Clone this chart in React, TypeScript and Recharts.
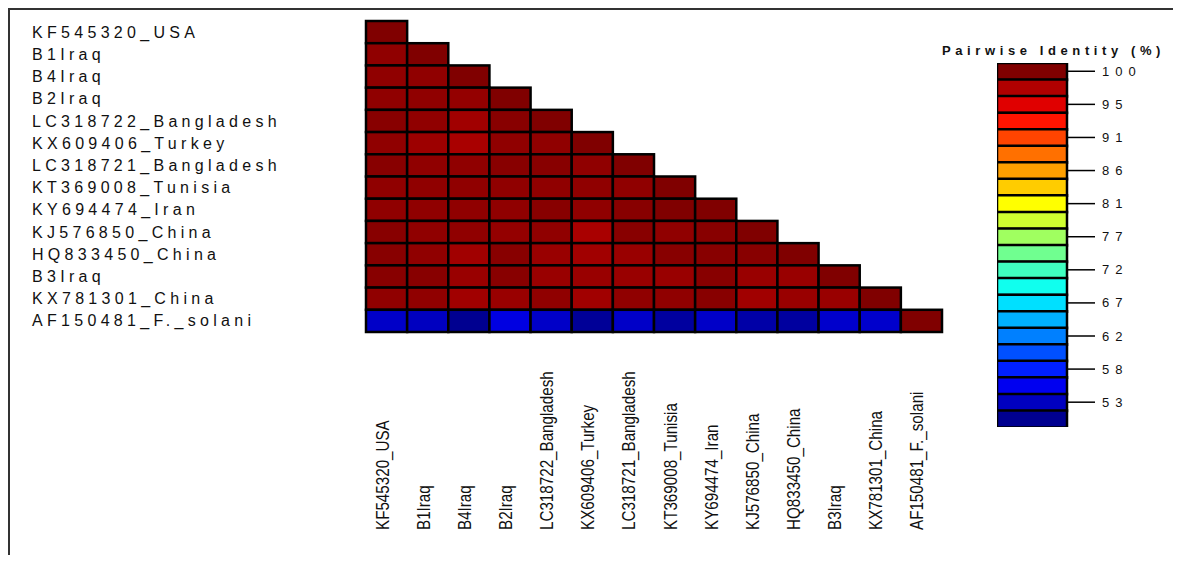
import { ScatterChart, Scatter, XAxis, YAxis, BarChart, Bar, Cell } from "recharts";

const TAXA = [
  "KF545320_USA",
  "B1Iraq",
  "B4Iraq",
  "B2Iraq",
  "LC318722_Bangladesh",
  "KX609406_Turkey",
  "LC318721_Bangladesh",
  "KT369008_Tunisia",
  "KY694474_Iran",
  "KJ576850_China",
  "HQ833450_China",
  "B3Iraq",
  "KX781301_China",
  "AF150481_F._solani",
];

// lower triangle of pairwise identity (%), row i vs columns 0..i
const IDENTITY = [
  [100],
  [99.2, 100],
  [99.2, 99.2, 100],
  [99.2, 99.2, 99.0, 100],
  [99.6, 99.2, 98.4, 99.6, 100],
  [99.2, 98.6, 98.0, 99.2, 99.2, 100],
  [99.6, 99.2, 99.2, 99.6, 99.6, 99.2, 100],
  [99.2, 99.2, 99.2, 99.2, 99.2, 99.2, 99.2, 100],
  [99.2, 99.2, 99.2, 99.2, 99.6, 99.2, 99.6, 100, 100],
  [99.6, 99.2, 99.2, 99.0, 99.2, 98.0, 99.6, 99.2, 99.6, 100],
  [99.6, 99.2, 98.4, 99.6, 98.8, 98.4, 98.8, 99.6, 99.6, 99.6, 100],
  [99.6, 99.6, 98.8, 99.6, 98.8, 98.8, 98.8, 98.8, 99.6, 98.8, 98.8, 100],
  [99.2, 99.2, 98.4, 98.8, 99.2, 98.4, 99.2, 99.2, 99.6, 98.4, 98.8, 98.8, 100],
  [53.4, 53.0, 50.6, 54.6, 53.4, 51.0, 53.4, 51.4, 53.4, 51.8, 51.4, 53.6, 53.6, 100],
];

// colour bar swatches, top (100%) to bottom
const LEGEND_COLORS = [
  "#800000", "#b00000", "#e00000", "#ff1400", "#ff4400", "#ff7000",
  "#ffa000", "#ffcc00", "#ffff00", "#d0ff30", "#a0ff60", "#70ff90",
  "#40ffc0", "#10ffee", "#00e0ff", "#00b0ff", "#0080ff", "#0050ff",
  "#0020ff", "#0000f0", "#0000c0", "#000090",
];
const LEGEND_TICKS = ["100", "95", "91", "86", "81", "77", "72", "67", "62", "58", "53"];

const SCALE_TOP = 100;
const SCALE_LAST_TICK = 53;
const STEP = (SCALE_TOP - SCALE_LAST_TICK) / ((LEGEND_TICKS.length - 1) * 2);

const FONT = "'Liberation Sans', Arial, sans-serif";

const CHART_W = 940;
const CHART_H = 545;
const Y_AXIS_W = 356;
const X_AXIS_H = 223;
const MARGIN = { top: 11, right: 8, left: 0, bottom: 0 };
const PLOT_W = CHART_W - Y_AXIS_W - MARGIN.right;
const PLOT_H = CHART_H - MARGIN.top - X_AXIS_H;
const CELL_W = PLOT_W / TAXA.length;
const CELL_H = PLOT_H / TAXA.length;

function toRgb(hex: string) {
  const n = parseInt(hex.slice(1), 16);
  return [(n >> 16) & 255, (n >> 8) & 255, n & 255];
}

function identityColor(v: number) {
  const pos = Math.max(0, (SCALE_TOP - v) / STEP);
  const last = LEGEND_COLORS.length - 1;
  const i = Math.min(last, Math.floor(pos));
  const j = Math.min(last, i + 1);
  const t = Math.min(1, pos - i);
  const a = toRgb(LEGEND_COLORS[i]);
  const b = toRgb(LEGEND_COLORS[j]);
  const c = a.map((k, idx) => Math.round(k + (b[idx] - k) * t));
  return `rgb(${c[0]},${c[1]},${c[2]})`;
}

const cells = IDENTITY.flatMap((row, r) => row.map((v, c) => ({ col: c, row: r, v })));
const swatches = LEGEND_COLORS.map((color, i) => ({
  key: String(i),
  span: 1,
  color,
  label: i % 2 === 0 ? LEGEND_TICKS[i / 2] : "",
}));
const idx = TAXA.map((_, i) => i);

const HeatCell = (props: any) => {
  const { cx, cy, payload } = props;
  return (
    <rect
      x={cx - CELL_W / 2}
      y={cy - CELL_H / 2}
      width={CELL_W}
      height={CELL_H}
      fill={identityColor(payload.v)}
      stroke="#000"
      strokeWidth={2.5}
    />
  );
};

const RowTick = (props: any) => (
  <text
    x={22}
    y={props.y}
    dy="0.35em"
    textAnchor="start"
    fontSize={16}
    letterSpacing={4.3}
    fill="#111"
    fontFamily={FONT}
  >
    {TAXA[props.payload.value]}
  </text>
);

const ColTick = (props: any) => (
  <text
    transform={`translate(${props.x + 2},520) rotate(-90) scale(0.8,1)`}
    textAnchor="start"
    fontSize={19}
    fill="#111"
    fontFamily={FONT}
  >
    {TAXA[props.payload.value]}
  </text>
);

const LegendTick = (props: any) => {
  const s = swatches[props.index];
  if (!s || !s.label) return <g />;
  return (
    <g>
      <line x1={props.x} x2={props.x + 28} y1={props.y} y2={props.y} stroke="#000" strokeWidth={1.5} />
      <text
        x={props.x + 35}
        y={props.y}
        dy="0.35em"
        fontSize={13}
        letterSpacing={6}
        fill="#111"
        fontFamily={FONT}
      >
        {s.label}
      </text>
    </g>
  );
};

export default function App() {
  return (
    <div
      style={{
        position: "relative",
        width: 1163,
        height: 545,
        borderTop: "2px solid #333",
        borderLeft: "2px solid #333",
        background: "#fff",
        fontFamily: FONT,
      }}
    >
      <div style={{ position: "absolute", left: 0, top: 0 }}>
        <ScatterChart width={CHART_W} height={CHART_H} margin={MARGIN}>
          <XAxis
            type="number"
            dataKey="col"
            domain={[-0.5, TAXA.length - 0.5]}
            ticks={idx}
            interval={0}
            height={X_AXIS_H}
            axisLine={false}
            tickLine={false}
            tick={<ColTick />}
          />
          <YAxis
            type="number"
            dataKey="row"
            domain={[-0.5, TAXA.length - 0.5]}
            ticks={idx}
            interval={0}
            reversed
            width={Y_AXIS_W}
            axisLine={false}
            tickLine={false}
            tick={<RowTick />}
          />
          <Scatter data={cells} shape={<HeatCell />} isAnimationActive={false} />
        </ScatterChart>
      </div>

      <div
        style={{
          position: "absolute",
          left: 932,
          top: 33,
          fontSize: 13,
          fontWeight: "bold",
          letterSpacing: 4.6,
          color: "#111",
          whiteSpace: "nowrap",
          lineHeight: "16px",
        }}
      >
        Pairwise Identity (%)
      </div>

      <div style={{ position: "absolute", left: 987, top: 53 }}>
        <BarChart
          width={170}
          height={364}
          data={swatches}
          layout="vertical"
          barCategoryGap={0}
          margin={{ top: 0, right: 0, left: 0, bottom: 0 }}
        >
          <XAxis type="number" domain={[0, 1]} hide />
          <YAxis
            type="category"
            dataKey="key"
            orientation="right"
            width={100}
            interval={0}
            axisLine={false}
            tickLine={false}
            tickSize={0}
            tickMargin={0}
            tick={<LegendTick />}
          />
          <Bar dataKey="span" stroke="#000" strokeWidth={2.5} isAnimationActive={false}>
            {swatches.map((s) => (
              <Cell key={s.key} fill={s.color} />
            ))}
          </Bar>
        </BarChart>
      </div>
    </div>
  );
}
